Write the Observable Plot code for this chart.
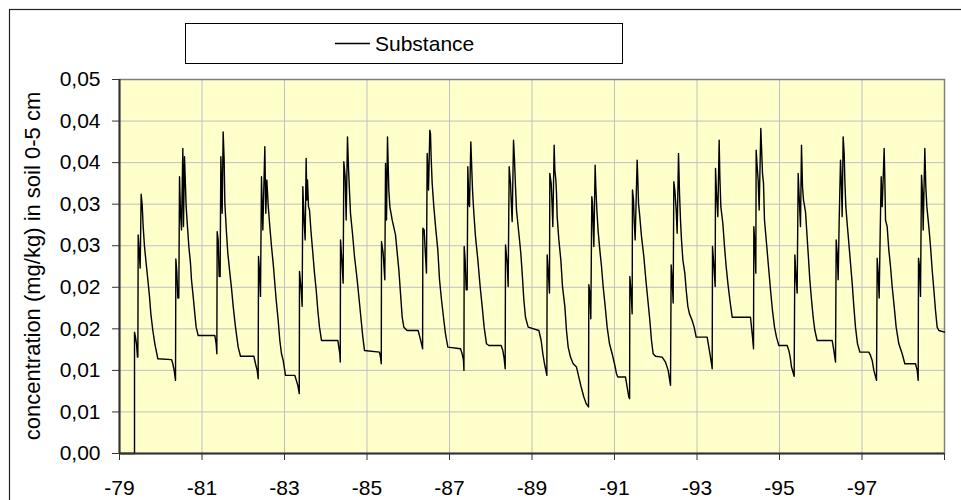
<!DOCTYPE html>
<html><head><meta charset="utf-8">
<script src="https://cdn.jsdelivr.net/npm/d3@7"></script>
<script src="https://cdn.jsdelivr.net/npm/@observablehq/plot@0.6"></script>
<style>html,body{margin:0;padding:0;background:#fff;overflow:hidden}#chart svg{display:block}</style>
</head><body><div id="chart"></div>
<script>
// decimal year of each reading
const time = [
1979.000,1979.364,1979.364,1979.388,1979.412,1979.436,1979.445,1979.453,1979.477,1979.501,1979.525,1979.550,1979.574,1979.606,1979.646,1979.687,1979.727,1979.760,1979.808,1979.857,1979.929,1980.261,1980.293,1980.325,1980.358,
1980.366,1980.390,1980.414,1980.438,1980.455,1980.479,1980.503,1980.535,1980.551,1980.576,1980.616,1980.648,1980.681,1980.721,1980.745,1980.786,1980.826,1980.858,1980.907,1981.311,1981.343,1981.360,
1981.368,1981.392,1981.416,1981.440,1981.457,1981.489,1981.513,1981.537,1981.554,1981.594,1981.626,1981.667,1981.715,1981.756,1981.812,1981.877,1981.933,1982.257,1982.297,1982.337,1982.362,
1982.370,1982.394,1982.418,1982.442,1982.475,1982.523,1982.547,1982.572,1982.604,1982.644,1982.685,1982.725,1982.758,1982.798,1982.847,1982.887,1982.927,1982.968,1983.024,1983.251,1983.275,1983.323,1983.358,
1983.364,1983.404,1983.428,1983.444,1983.477,1983.501,1983.525,1983.541,1983.557,1983.582,1983.606,1983.646,1983.687,1983.727,1983.768,1983.808,1983.848,1983.897,1984.293,1984.317,1984.341,1984.352,
1984.358,1984.390,1984.422,1984.438,1984.471,1984.495,1984.527,1984.552,1984.576,1984.600,1984.648,1984.697,1984.762,1984.810,1984.859,1984.899,1984.939,1985.303,1985.327,1985.346,
1985.352,1985.392,1985.432,1985.449,1985.473,1985.497,1985.529,1985.554,1985.610,1985.691,1985.772,1985.812,1985.853,1985.893,1985.974,1986.240,1986.281,1986.321,1986.348,
1986.354,1986.386,1986.410,1986.442,1986.459,1986.475,1986.491,1986.523,1986.539,1986.556,1986.580,1986.620,1986.669,1986.717,1986.758,1986.806,1986.863,1986.903,1986.960,1987.267,1987.307,1987.339,1987.350,
1987.356,1987.380,1987.404,1987.429,1987.444,1987.469,1987.485,1987.517,1987.541,1987.558,1987.590,1987.630,1987.687,1987.743,1987.792,1987.840,1987.897,1987.954,1988.253,1988.293,1988.325,1988.350,
1988.358,1988.398,1988.422,1988.447,1988.479,1988.495,1988.519,1988.552,1988.576,1988.600,1988.624,1988.681,1988.729,1988.762,1988.802,1988.842,1988.907,1989.166,1989.222,1989.263,1989.303,1989.360,
1989.368,1989.392,1989.424,1989.432,1989.465,1989.489,1989.505,1989.537,1989.554,1989.578,1989.594,1989.610,1989.651,1989.699,1989.739,1989.796,1989.836,1989.877,1989.933,1989.998,1990.079,1990.135,1990.192,1990.257,1990.313,1990.370,
1990.378,1990.402,1990.426,1990.450,1990.467,1990.499,1990.531,1990.547,1990.572,1990.604,1990.644,1990.685,1990.725,1990.774,1990.822,1990.879,1990.943,1991.000,1991.048,1991.081,1991.267,1991.307,1991.347,1991.366,
1991.372,1991.404,1991.428,1991.436,1991.461,1991.477,1991.501,1991.549,1991.566,1991.582,1991.606,1991.655,1991.711,1991.760,1991.808,1991.857,1991.897,1991.937,1991.994,1992.156,1992.236,1992.301,1992.358,
1992.374,1992.398,1992.422,1992.438,1992.463,1992.495,1992.519,1992.552,1992.576,1992.600,1992.624,1992.657,1992.705,1992.737,1992.778,1992.818,1992.883,1992.931,1992.980,1993.247,1993.287,1993.327,1993.368,
1993.376,1993.400,1993.441,1993.449,1993.473,1993.505,1993.537,1993.554,1993.578,1993.626,1993.667,1993.707,1993.748,1993.796,1993.853,1994.297,1994.321,1994.346,1994.370,
1994.378,1994.402,1994.426,1994.434,1994.459,1994.483,1994.507,1994.547,1994.564,1994.588,1994.612,1994.636,1994.685,1994.733,1994.782,1994.830,1994.879,1994.927,1994.984,1995.186,1995.226,1995.259,1995.291,1995.356,
1995.372,1995.396,1995.428,1995.453,1995.477,1995.509,1995.533,1995.558,1995.582,1995.630,1995.695,1995.735,1995.776,1995.816,1995.857,1995.913,1996.277,1996.317,1996.358,
1996.374,1996.398,1996.422,1996.447,1996.479,1996.503,1996.519,1996.543,1996.568,1996.584,1996.608,1996.640,1996.681,1996.721,1996.762,1996.802,1996.842,1996.891,1996.948,1997.166,1997.206,1997.247,1997.287,1997.352,
1997.368,1997.392,1997.416,1997.441,1997.465,1997.489,1997.513,1997.537,1997.554,1997.570,1997.610,1997.650,1997.691,1997.731,1997.780,1997.828,1997.893,1997.974,1998.038,1998.297,1998.338,1998.362,
1998.370,1998.394,1998.418,1998.443,1998.467,1998.483,1998.523,1998.547,1998.572,1998.620,1998.661,1998.701,1998.742,1998.782,1998.822,1998.863,1999.000
];
// concentration (mg/kg) in soil 0-5 cm
const conc = [
0,0,0.0146,0.0140,0.0132,0.0116,0.0116,0.0263,0.0243,0.0223,0.0312,0.0299,0.0273,0.0249,0.0229,0.0209,0.0189,0.0168,0.0148,0.0132,0.0114,0.0113,0.0108,0.0100,0.0088,
0.0234,0.0219,0.0187,0.0187,0.0333,0.0289,0.0269,0.0367,0.0273,0.0357,0.0297,0.0273,0.0249,0.0229,0.0209,0.0189,0.0168,0.0152,0.0142,0.0142,0.0132,0.0120,
0.0267,0.0257,0.0213,0.0213,0.0357,0.0289,0.0387,0.0353,0.0301,0.0265,0.0241,0.0221,0.0199,0.0177,0.0152,0.0128,0.0117,0.0117,0.0108,0.0100,0.0090,
0.0237,0.0219,0.0189,0.0333,0.0269,0.0369,0.0289,0.0329,0.0299,0.0273,0.0249,0.0229,0.0209,0.0185,0.0160,0.0136,0.0120,0.0112,0.0094,0.0094,0.0090,0.0082,0.0072,
0.0219,0.0197,0.0177,0.0321,0.0277,0.0257,0.0355,0.0305,0.0329,0.0297,0.0293,0.0265,0.0241,0.0217,0.0197,0.0172,0.0152,0.0136,0.0136,0.0128,0.0120,0.0110,
0.0257,0.0233,0.0205,0.0351,0.0333,0.0281,0.0381,0.0343,0.0315,0.0289,0.0265,0.0237,0.0209,0.0185,0.0160,0.0140,0.0124,0.0122,0.0116,0.0108,
0.0255,0.0241,0.0209,0.0349,0.0281,0.0381,0.0317,0.0297,0.0281,0.0263,0.0221,0.0193,0.0164,0.0152,0.0148,0.0148,0.0140,0.0132,0.0126,
0.0271,0.0269,0.0245,0.0217,0.0361,0.0341,0.0317,0.0389,0.0385,0.0355,0.0325,0.0297,0.0269,0.0245,0.0209,0.0185,0.0160,0.0144,0.0128,0.0126,0.0120,0.0112,0.0100,
0.0249,0.0233,0.0197,0.0197,0.0345,0.0301,0.0297,0.0375,0.0341,0.0317,0.0289,0.0261,0.0233,0.0201,0.0177,0.0152,0.0132,0.0130,0.0130,0.0124,0.0114,0.0102,
0.0251,0.0229,0.0201,0.0345,0.0325,0.0305,0.0279,0.0377,0.0353,0.0321,0.0293,0.0265,0.0241,0.0217,0.0185,0.0164,0.0152,0.0148,0.0136,0.0120,0.0108,0.0094,
0.0239,0.0221,0.0193,0.0337,0.0325,0.0297,0.0273,0.0371,0.0341,0.0329,0.0313,0.0285,0.0257,0.0233,0.0201,0.0177,0.0148,0.0128,0.0116,0.0108,0.0104,0.0092,0.0080,0.0068,0.0060,0.0056,
0.0203,0.0193,0.0162,0.0309,0.0301,0.0249,0.0347,0.0321,0.0293,0.0267,0.0245,0.0225,0.0201,0.0177,0.0152,0.0132,0.0120,0.0108,0.0096,0.0092,0.0092,0.0080,0.0068,0.0066,
0.0213,0.0193,0.0168,0.0317,0.0305,0.0281,0.0257,0.0353,0.0329,0.0301,0.0289,0.0261,0.0237,0.0209,0.0185,0.0160,0.0136,0.0120,0.0117,0.0116,0.0110,0.0100,0.0082,
0.0227,0.0209,0.0181,0.0327,0.0317,0.0293,0.0265,0.0361,0.0313,0.0281,0.0257,0.0233,0.0217,0.0197,0.0177,0.0168,0.0160,0.0152,0.0140,0.0140,0.0128,0.0116,0.0102,
0.0249,0.0233,0.0201,0.0343,0.0313,0.0285,0.0377,0.0333,0.0297,0.0277,0.0249,0.0225,0.0205,0.0185,0.0164,0.0164,0.0152,0.0140,0.0126,
0.0273,0.0253,0.0217,0.0365,0.0345,0.0329,0.0293,0.0391,0.0369,0.0337,0.0325,0.0281,0.0253,0.0225,0.0197,0.0172,0.0152,0.0140,0.0130,0.0130,0.0124,0.0116,0.0104,0.0093,
0.0239,0.0217,0.0193,0.0337,0.0309,0.0273,0.0371,0.0321,0.0305,0.0291,0.0241,0.0209,0.0185,0.0164,0.0148,0.0136,0.0136,0.0124,0.0110,
0.0257,0.0241,0.0209,0.0281,0.0353,0.0321,0.0285,0.0381,0.0361,0.0329,0.0297,0.0277,0.0253,0.0229,0.0205,0.0177,0.0152,0.0132,0.0122,0.0122,0.0118,0.0112,0.0100,0.0088,
0.0235,0.0217,0.0187,0.0265,0.0333,0.0297,0.0329,0.0367,0.0329,0.0281,0.0273,0.0245,0.0225,0.0201,0.0177,0.0152,0.0132,0.0120,0.0108,0.0108,0.0100,0.0088,
0.0235,0.0225,0.0189,0.0335,0.0313,0.0269,0.0367,0.0321,0.0297,0.0273,0.0249,0.0221,0.0197,0.0172,0.0152,0.0148,0.0146
];
const yTicks = [0,0.005,0.010,0.015,0.020,0.025,0.030,0.035,0.040,0.045];
const yTickLabels = ["0,00","0,01","0,01","0,02","0,02","0,03","0,03","0,04","0,04","0,05"];
const xTicks = [1979,1981,1983,1985,1987,1989,1991,1993,1995,1997,1999];
const xTickLabels = ["-79","-81","-83","-85","-87","-89","-91","-93","-95","-97",""];
const seriesName = "Substance";
const yTitle = "concentration (mg/kg) in soil 0-5 cm";

const data = time.map((t, i) => ({t, v: conc[i]}));
const yLab = new Map(yTicks.map((d, i) => [d, yTickLabels[i]]));
const xLab = new Map(xTicks.map((d, i) => [d, xTickLabels[i]]));
const font = "'Liberation Sans', Arial, sans-serif";

const chart = Plot.plot({
  width: 961, height: 500,
  marginLeft: 119, marginRight: 17, marginTop: 79, marginBottom: 47,
  style: {fontFamily: font, fontSize: "21px", color: "#000", background: "#fff", overflow: "hidden"},
  x: {domain: [1979, 1999]},
  y: {domain: [0, 0.045]},
  marks: [
    Plot.frame({fill: "#FFFFCC", stroke: null}),
    Plot.gridY(yTicks.slice(1), {stroke: "#C0C0C0", strokeOpacity: 1}),
    Plot.gridX(xTicks.slice(1, -1), {stroke: "#C0C0C0", strokeOpacity: 1}),
    Plot.frame({stroke: "#808080", strokeWidth: 1.5}),
    Plot.line(data, {x: "t", y: "v", stroke: "#000", strokeWidth: 1.4}),
    Plot.ruleX([1979], {stroke: "#333", strokeWidth: 2}),
    Plot.ruleY([0], {stroke: "#333", strokeWidth: 2}),
    Plot.axisY({ticks: yTicks, tickFormat: d => yLab.get(d), tickSize: 7, tickPadding: 12, label: null, stroke: "#333"}),
    Plot.axisX({ticks: xTicks, tickFormat: d => xLab.get(d), tickSize: 7, tickPadding: 20, label: null, stroke: "#333"})
  ]
});
document.getElementById("chart").appendChild(chart);

const svg = d3.select(chart);
// outer chart border
svg.append("rect").attr("x", 9.5).attr("y", 9.5).attr("width", 960).attr("height", 500)
  .attr("fill", "none").attr("stroke", "#222").attr("stroke-width", 1.2);
// legend
const lg = svg.append("g");
lg.append("rect").attr("x", 185.5).attr("y", 23.5).attr("width", 437).attr("height", 40)
  .attr("fill", "#fff").attr("stroke", "#000").attr("stroke-width", 1);
lg.append("line").attr("x1", 335).attr("x2", 370).attr("y1", 43.5).attr("y2", 43.5)
  .attr("stroke", "#000").attr("stroke-width", 1.4);
lg.append("text").attr("x", 375).attr("y", 51).attr("text-anchor", "start")
  .attr("font-family", font).attr("font-size", 21)
  .attr("fill", "#000").text(seriesName);
// y axis title
svg.append("text").attr("transform", "translate(32,266) rotate(-90)")
  .attr("text-anchor", "middle").attr("dominant-baseline", "central")
  .attr("font-family", font).attr("font-size", 22).attr("fill", "#000").text(yTitle);
</script>
</body></html>
